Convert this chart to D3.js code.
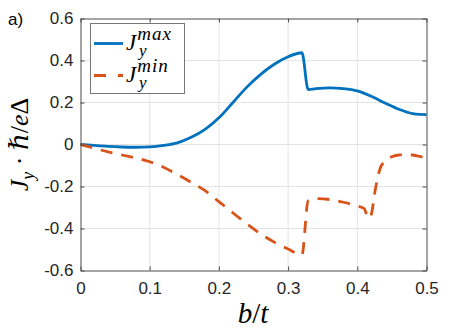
<!DOCTYPE html>
<html>
<head>
<meta charset="utf-8">
<script src="https://cdn.jsdelivr.net/npm/d3@7/dist/d3.min.js"></script>
<style>
  html, body { margin: 0; padding: 0; background: #fff; }
  svg { display: block; }
</style>
</head>
<body>
<svg id="chart" width="458" height="335"></svg>
<script>
// ---- data ----
const xTicks = [0, 0.1, 0.2, 0.3, 0.4, 0.5];
const xTickLabels = ["0", "0.1", "0.2", "0.3", "0.4", "0.5"];
const yTicks = [-0.6, -0.4, -0.2, 0, 0.2, 0.4, 0.6];
const yTickLabels = ["-0.6", "-0.4", "-0.2", "0", "0.2", "0.4", "0.6"];

const bMax = [0, 0.02, 0.04, 0.06, 0.08, 0.10, 0.12, 0.14, 0.16, 0.18, 0.20, 0.22, 0.24, 0.26, 0.28, 0.30, 0.32, 0.329, 0.34, 0.36, 0.38, 0.40, 0.42, 0.44, 0.46, 0.48, 0.49, 0.50];
const jMax = [0, -0.004, -0.009, -0.012, -0.013, -0.011, -0.004, 0.008, 0.034, 0.072, 0.127, 0.199, 0.272, 0.333, 0.382, 0.418, 0.437, 0.262, 0.266, 0.270, 0.266, 0.255, 0.230, 0.198, 0.168, 0.147, 0.143, 0.142];

const bMin = [0, 0.02, 0.04, 0.06, 0.08, 0.10, 0.12, 0.14, 0.16, 0.18, 0.20, 0.22, 0.24, 0.26, 0.28, 0.30, 0.32, 0.329, 0.34, 0.36, 0.38, 0.40, 0.41, 0.416, 0.42, 0.426, 0.433, 0.44, 0.45, 0.46, 0.47, 0.48, 0.49, 0.50];
const jMin = [0, -0.018, -0.035, -0.050, -0.064, -0.082, -0.108, -0.143, -0.180, -0.220, -0.272, -0.325, -0.377, -0.425, -0.465, -0.498, -0.525, -0.268, -0.258, -0.262, -0.275, -0.293, -0.305, -0.352, -0.335, -0.215, -0.114, -0.080, -0.058, -0.050, -0.048, -0.050, -0.057, -0.066];

const seriesNames = ["max", "min"];
const seriesColors = ["#0072BD", "#D95319"];

// ---- layout ----
const svg = d3.select("#chart");
const L = 80.5, R = 426.5, T = 18.5, B = 270.5;
const x = d3.scaleLinear().domain([0, 0.5]).range([L, R]);
const y = d3.scaleLinear().domain([-0.6, 0.6]).range([B, T]);

// grid
const grid = svg.append("g").attr("stroke", "#e3e3e3").attr("stroke-width", 1);
xTicks.slice(1, -1).forEach(t => grid.append("line").attr("x1", x(t)).attr("x2", x(t)).attr("y1", T).attr("y2", B));
yTicks.slice(1, -1).forEach(t => grid.append("line").attr("y1", y(t)).attr("y2", y(t)).attr("x1", L).attr("x2", R));

// lines
const line = d3.line().curve(d3.curveMonotoneX).x(d => x(d[0])).y(d => y(d[1]));
const dMax = bMax.map((b, i) => [b, jMax[i]]);
const dMin = bMin.map((b, i) => [b, jMin[i]]);
svg.append("path").attr("d", line(dMax)).attr("fill", "none")
  .attr("stroke", seriesColors[0]).attr("stroke-width", 2.8).attr("stroke-linejoin", "round");
svg.append("path").attr("d", line(dMin)).attr("fill", "none")
  .attr("stroke", seriesColors[1]).attr("stroke-width", 2.8).attr("stroke-dasharray", "12,9");

// axes (box with inward ticks)
const axisColor = "#4a4a4a";
const tickFont = "'Liberation Sans', Arial, sans-serif";
const axB = svg.append("g").attr("transform", `translate(0,${B})`)
  .call(d3.axisBottom(x).tickValues(xTicks).tickSizeInner(-4).tickSizeOuter(0).tickPadding(8)
    .tickFormat((d, i) => xTickLabels[i]));
const axL = svg.append("g").attr("transform", `translate(${L},0)`)
  .call(d3.axisLeft(y).tickValues(yTicks).tickSizeInner(-4).tickSizeOuter(0).tickPadding(7)
    .tickFormat((d, i) => yTickLabels[i]));
const axT = svg.append("g").attr("transform", `translate(0,${T})`)
  .call(d3.axisTop(x).tickValues(xTicks).tickSizeInner(-4).tickSizeOuter(0).tickFormat(""));
const axR = svg.append("g").attr("transform", `translate(${R},0)`)
  .call(d3.axisRight(y).tickValues(yTicks).tickSizeInner(-4).tickSizeOuter(0).tickFormat(""));
[axB, axL, axT, axR].forEach(a => {
  a.selectAll("path, line").attr("stroke", axisColor);
  a.selectAll("text").attr("fill", "#262626").style("font-family", tickFont).style("font-size", "17px");
});
axB.selectAll("text").attr("dy", "0.9em");

// legend
const lg = svg.append("g");
lg.append("rect").attr("x", 90.5).attr("y", 23.5).attr("width", 94).attr("height", 70)
  .attr("fill", "#fff").attr("stroke", "#777").attr("stroke-width", 1);
const serif = "'Liberation Serif', 'DejaVu Serif', serif";
const rows = [43.5, 75.5];
seriesNames.forEach((name, i) => {
  const ly = rows[i];
  const ln = lg.append("line").attr("x1", 94).attr("x2", 123).attr("y1", ly).attr("y2", ly)
    .attr("stroke", seriesColors[i]).attr("stroke-width", 2.8);
  if (i === 1) ln.attr("stroke-dasharray", "12,12");
  const t = lg.append("text").attr("x", 126).attr("y", ly + 6)
    .style("font-family", serif).style("font-style", "italic").style("font-size", "23px").attr("fill", "#000");
  t.append("tspan").text("J");
  t.append("tspan").attr("dx", 1).attr("dy", -10).style("font-size", "19px").style("letter-spacing", "1px").text(name);
  t.append("tspan").attr("x", 139).attr("y", ly + 12).style("font-size", "17px").text("y");
});

// axis labels
const xl = svg.append("text").attr("x", 253).attr("y", 323).attr("text-anchor", "middle")
  .style("font-family", serif).style("font-style", "italic").style("font-size", "29px").attr("fill", "#000");
xl.append("tspan").text("b");
xl.append("tspan").style("font-style", "normal").text("/");
xl.append("tspan").text("t");

const yl = svg.append("text").attr("transform", `translate(28,${(T + B) / 2}) rotate(-90)`).attr("text-anchor", "middle")
  .style("font-family", serif).style("font-size", "26px").attr("fill", "#000");
yl.append("tspan").style("font-style", "italic").text("J");
yl.append("tspan").style("font-style", "italic").style("font-size", "18px").attr("dy", 6).text("y");
yl.append("tspan").attr("dy", -6).text(" · ");
yl.append("tspan").style("font-style", "italic").text("ℏ");
yl.append("tspan").text("/");
yl.append("tspan").style("font-style", "italic").text("e");
yl.append("tspan").text("Δ");

// panel tag
svg.append("text").attr("x", 8).attr("y", 25).style("font-family", tickFont).style("font-size", "17px")
  .attr("fill", "#000").text("a)");
</script>
</body>
</html>
